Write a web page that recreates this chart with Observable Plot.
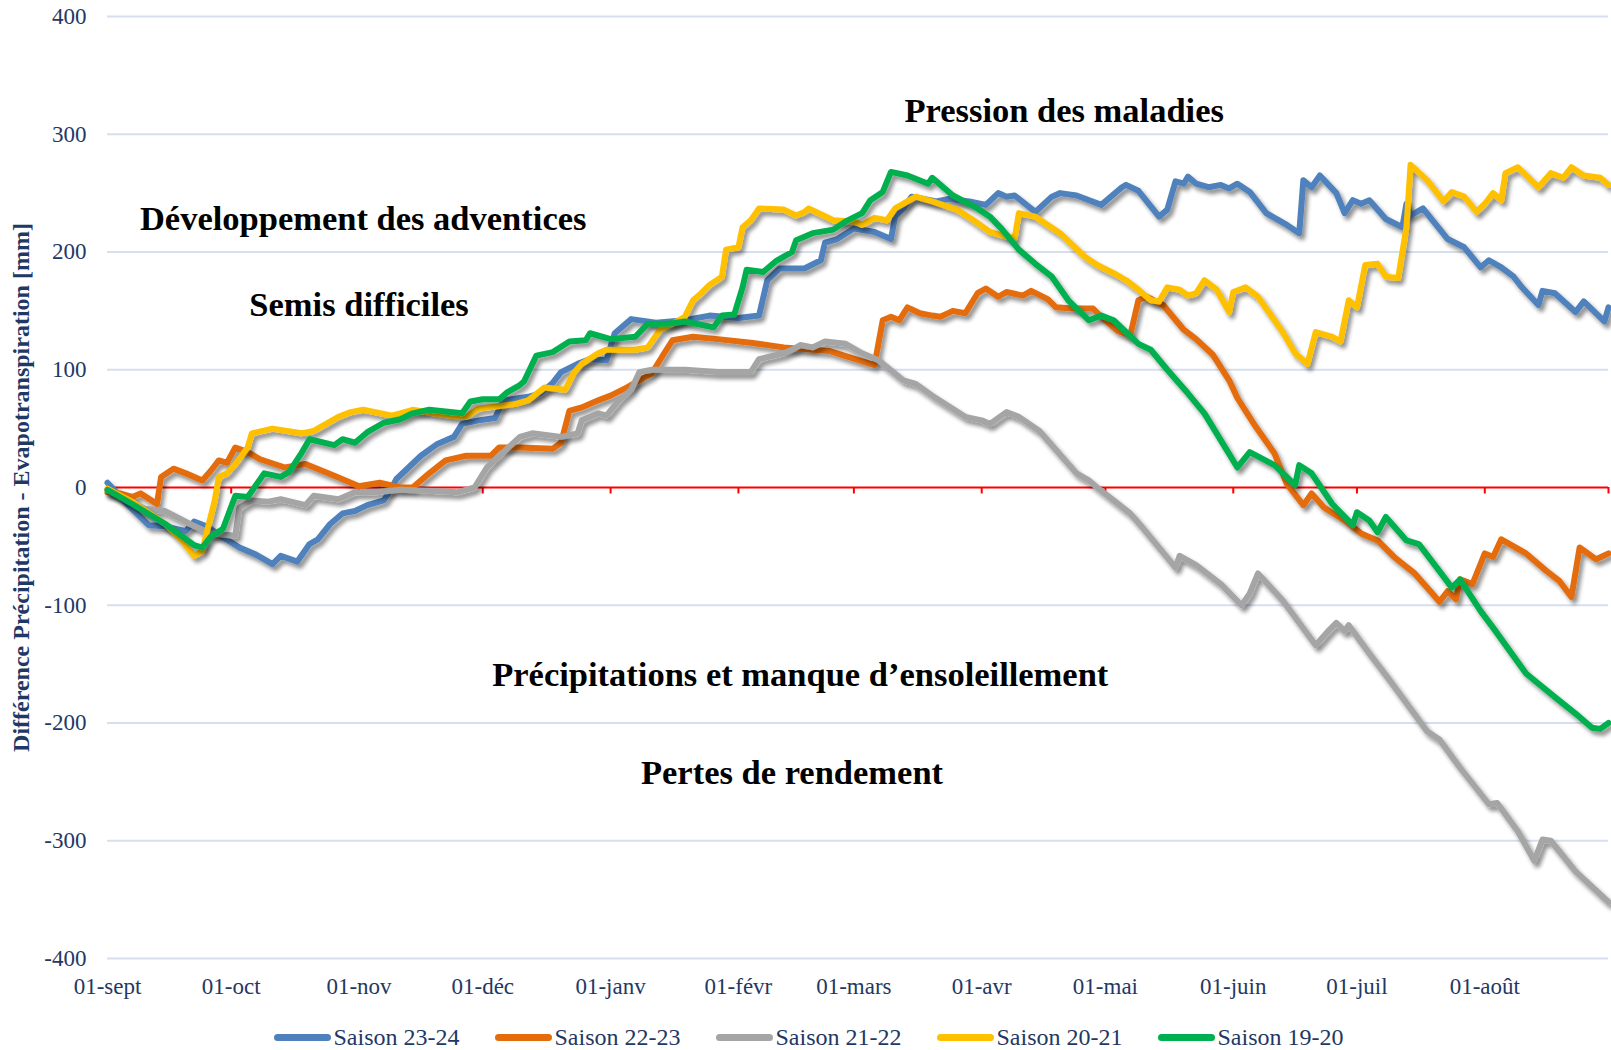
<!DOCTYPE html>
<html><head><meta charset="utf-8">
<script src="https://cdn.jsdelivr.net/npm/d3@7"></script>
<script src="https://cdn.jsdelivr.net/npm/@observablehq/plot@0.6"></script>
<style>
body{margin:0;background:#fff;}
#legende{display:flex;justify-content:center;align-items:center;height:54px;font-family:"Liberation Serif","Times New Roman",serif;font-size:24px;color:#1F3864;gap:35px;padding-left:6px}
.item{display:flex;align-items:center;white-space:nowrap}
.sw{width:57px;height:7px;border-radius:4px;margin-right:3px}
</style></head><body><div id="chart"></div><div id="legende"></div>
<script>
// Jours depuis le 1er septembre, et valeurs [mm]
const saisons = ["Saison 23-24", "Saison 22-23", "Saison 21-22", "Saison 20-21", "Saison 19-20"];
const couleurs = ["#4F81BD", "#E46C0A", "#A5A5A5", "#FFC000", "#00B050"];

const s2324 = [[0,4],[5,-15],[10,-32],[14,-33],[19,-37],[21,-29],[24,-33],[27,-40],[32,-51],[36,-57],[40,-65],[42,-58],[46,-63],[49,-48],[51,-44],[54,-31],[57,-22],[60,-20],[63,-15],[67,-11],[69,0],[70,7],[73,17],[76,27],[80,37],[84,43],[86,54],[90,57],[94,59],[96,74],[102,77],[105,80],[108,89],[110,98],[114,105],[117,109],[121,108],[123,131],[127,143],[133,140],[140,142],[146,146],[153,144],[158,146],[160,176],[163,186],[169,186],[173,193],[174,208],[177,211],[181,220],[186,217],[190,211],[191,230],[193,237],[195,247],[201,243],[204,245],[209,243],[213,240],[216,250],[218,247],[220,248],[225,234],[229,247],[231,250],[235,248],[241,240],[246,255],[247,257],[250,252],[255,230],[257,236],[259,260],[261,258],[262,264],[264,258],[267,255],[270,257],[272,254],[274,258],[277,251],[281,233],[286,223],[289,216],[290,261],[292,255],[294,265],[298,250],[300,233],[302,244],[304,241],[306,244],[310,228],[314,221],[315,241],[316,231],[319,237],[325,211],[329,204],[333,187],[335,193],[338,187],[341,179],[343,170],[347,155],[348,167],[351,165],[356,149],[358,158],[363,141],[364,153]];

const s2223 = [[0,-4],[3,-5],[6,-8],[8,-5],[12,-14],[13,9],[16,16],[19,12],[23,6],[25,14],[27,23],[29,21],[31,34],[34,30],[37,24],[43,17],[48,20],[55,10],[61,1],[66,4],[71,0],[74,0],[78,12],[82,23],[87,27],[93,27],[95,34],[100,34],[108,33],[110,38],[112,65],[115,68],[119,74],[122,78],[126,85],[128,89],[132,97],[135,114],[137,125],[142,128],[148,126],[156,123],[164,119],[175,116],[186,104],[188,142],[190,145],[192,142],[194,153],[197,148],[200,146],[202,145],[205,150],[208,148],[211,165],[213,169],[216,162],[218,166],[222,163],[224,167],[228,160],[230,153],[234,152],[239,152],[241,145],[245,133],[248,129],[250,159],[252,162],[256,155],[261,134],[264,126],[268,113],[272,91],[274,76],[278,54],[283,29],[286,3],[290,-15],[292,-5],[295,-17],[300,-28],[304,-39],[308,-45],[312,-59],[317,-73],[320,-85],[323,-97],[325,-88],[327,-95],[328,-78],[331,-82],[334,-56],[336,-59],[338,-44],[344,-56],[349,-71],[352,-79],[355,-93],[357,-51],[361,-61],[364,-56]];

const s2122 = [[0,-2],[9,-18],[14,-20],[20,-31],[25,-39],[31,-41],[32,-17],[35,-11],[39,-12],[42,-10],[48,-15],[50,-7],[56,-10],[60,-4],[65,-4],[71,-2],[79,-3],[85,-4],[89,0],[92,17],[96,30],[100,43],[103,46],[110,43],[114,46],[115,57],[119,63],[121,61],[124,74],[127,83],[129,98],[132,100],[140,100],[148,98],[156,98],[158,109],[164,114],[166,117],[168,121],[171,119],[174,124],[179,122],[183,114],[187,108],[193,91],[196,88],[200,78],[208,60],[212,57],[214,54],[218,64],[221,60],[226,48],[235,12],[238,6],[240,0],[244,-11],[248,-22],[251,-34],[259,-68],[260,-58],[264,-66],[270,-82],[275,-100],[277,-90],[279,-73],[285,-96],[293,-134],[296,-122],[298,-115],[300,-122],[301,-117],[306,-141],[311,-164],[320,-207],[323,-214],[328,-238],[335,-269],[337,-268],[342,-292],[346,-317],[348,-299],[350,-300],[356,-326],[364,-352]];

const s2021 = [[0,-1],[6,-12],[14,-31],[18,-45],[21,-58],[23,-54],[24,-39],[26,-11],[27,9],[29,12],[31,20],[34,34],[35,46],[40,50],[47,46],[50,48],[53,54],[56,60],[59,64],[62,66],[69,61],[74,66],[79,63],[83,61],[87,60],[90,67],[99,71],[102,74],[106,85],[111,83],[113,97],[115,105],[119,114],[121,117],[128,117],[131,119],[134,134],[137,139],[140,145],[142,159],[144,165],[146,172],[149,179],[150,202],[153,204],[154,221],[156,227],[158,237],[164,236],[167,231],[169,234],[170,237],[176,227],[181,226],[183,223],[186,229],[189,227],[191,237],[196,247],[200,243],[206,236],[210,227],[214,217],[218,213],[220,212],[221,233],[225,230],[231,216],[237,196],[240,189],[244,182],[247,176],[250,168],[253,159],[255,158],[257,170],[260,168],[262,163],[264,165],[266,176],[269,168],[272,149],[273,166],[276,170],[279,162],[283,142],[285,132],[288,114],[291,105],[293,132],[297,128],[299,124],[301,159],[303,153],[305,189],[308,190],[310,179],[313,178],[315,221],[316,274],[320,261],[324,243],[326,251],[329,247],[332,234],[334,241],[336,250],[338,244],[339,267],[342,272],[347,255],[350,267],[353,263],[355,272],[358,265],[362,263],[364,257]];

const s1920 = [[0,-2],[6,-14],[14,-31],[21,-49],[23,-51],[25,-42],[28,-35],[31,-7],[34,-8],[38,12],[42,9],[44,13],[47,29],[49,41],[55,36],[57,41],[60,38],[63,47],[67,55],[71,58],[74,63],[78,66],[86,63],[88,73],[91,75],[95,75],[97,81],[100,87],[101,90],[104,112],[108,115],[112,124],[116,125],[117,131],[122,126],[128,128],[131,139],[136,139],[140,141],[147,136],[149,146],[152,147],[154,170],[155,185],[159,183],[162,192],[164,196],[166,200],[167,210],[169,213],[171,216],[176,219],[179,226],[183,233],[185,244],[188,251],[190,268],[194,265],[199,258],[200,263],[205,248],[211,237],[214,230],[217,219],[221,202],[225,190],[229,179],[233,159],[238,142],[241,146],[244,142],[250,122],[253,117],[257,100],[262,80],[266,63],[270,40],[274,17],[277,30],[283,19],[288,2],[289,19],[292,12],[297,-14],[302,-32],[303,-21],[306,-28],[308,-38],[310,-25],[315,-45],[318,-48],[323,-71],[326,-85],[328,-78],[333,-105],[336,-119],[344,-158],[351,-178],[356,-192],[360,-204],[362,-205],[364,-200]];

const series = [s2324, s2223, s2122, s2021, s1920];

const moisDates = ["2022-09-01","2022-10-01","2022-11-01","2022-12-01","2023-01-01","2023-02-01","2023-03-01","2023-04-01","2023-05-01","2023-06-01","2023-07-01","2023-08-01"];
const moisLabels = ["01-sept","01-oct","01-nov","01-déc","01-janv","01-févr","01-mars","01-avr","01-mai","01-juin","01-juil","01-août"];
const finSaison = "2023-08-31";
const yTicks = [-400,-300,-200,-100,0,100,200,300,400];

const annotTextes = ["Pression des maladies","Développement des adventices","Semis difficiles","Précipitations et manque d’ensoleillement","Pertes de rendement"];
const annotJours = [232, 62, 61, 168, 166];
const annotValeurs = [320, 228, 155, -159, -242];

const titreY = "Différence Précipitation - Evapotranspiration [mm]";

const parse = s => { const [y,m,d] = s.split("-").map(Number); return new Date(y, m-1, d); };
const debut = parse(moisDates[0]);
const jour = j => d3.timeDay.offset(debut, j);
const mois = moisDates.map(parse);
const labelMap = new Map(mois.map((d,i)=>[+d, moisLabels[i]]));
const ticksRouges = [...mois, parse(finSaison)];
const annots = annotTextes.map((t,i)=>({t, x: jour(annotJours[i]), y: annotValeurs[i]}));

const serif = "'Liberation Serif','Times New Roman',serif";

const lignes = series.map((s, i) => Plot.line(s.map(([j,v]) => ({x: jour(j), y: v})), {
  x: "x", y: "y", stroke: couleurs[i], strokeWidth: 6, strokeLinejoin: "round", strokeLinecap: "round"
}));

const plot = Plot.plot({
  width: 1611, height: 1010,
  marginLeft: 107, marginRight: 3, marginTop: 16, marginBottom: 52,
  style: {fontFamily: serif, fontSize: "23px", color: "#1F3864", background: "#fff"},
  x: {type: "time", domain: [debut, parse(finSaison)]},
  y: {domain: [-400, 400]},
  marks: [
    Plot.ruleY(yTicks.filter(v => v !== 0), {stroke: "#D5DFF0", strokeWidth: 2}),
    Plot.axisY({ticks: yTicks, tickSize: 0, tickPadding: 21, label: null, tickFormat: d => String(d)}),
    Plot.axisX({ticks: mois, tickSize: 0, tickPadding: 19, label: null, tickFormat: d => labelMap.get(+d)}),
    Plot.ruleY([0], {stroke: "#FF0000", strokeWidth: 2}),
    Plot.ruleX(ticksRouges, {x: d => d, y1: 0, y2: -5.5, stroke: "#FF0000", strokeWidth: 2}),
    ...lignes,
    Plot.text(annots, {x: "x", y: "y", text: "t", fontSize: 34.5, fontWeight: "bold", fill: "black", textAnchor: "middle", lineAnchor: "middle", fontFamily: serif}),
    Plot.text([titreY], {frameAnchor: "left", rotate: -90, dx: -86, fontSize: 24, fontWeight: "bold", fill: "#1F3864", textAnchor: "middle", lineAnchor: "middle", fontFamily: serif})
  ]
});

// ombre portée sur les courbes
const svg = d3.select(plot);
const defs = svg.insert("defs", ":first-child");
const f = defs.append("filter").attr("id", "ombre").attr("filterUnits", "userSpaceOnUse")
  .attr("x", 0).attr("y", 0).attr("width", 1611).attr("height", 1010);
f.append("feGaussianBlur").attr("in", "SourceAlpha").attr("stdDeviation", 2);
f.append("feOffset").attr("dx", 2.5).attr("dy", 3.5).attr("result", "o");
f.append("feComponentTransfer").append("feFuncA").attr("type", "linear").attr("slope", 0.45);
const m = f.append("feMerge"); m.append("feMergeNode"); m.append("feMergeNode").attr("in", "SourceGraphic");
svg.selectAll("g[aria-label='line'] path").attr("filter", "url(#ombre)");

document.getElementById("chart").appendChild(plot);

const leg = document.getElementById("legende");
saisons.forEach((s, i) => {
  const it = document.createElement("div"); it.className = "item";
  const sw = document.createElement("div"); sw.className = "sw"; sw.style.background = couleurs[i];
  const tx = document.createElement("span"); tx.textContent = s;
  it.appendChild(sw); it.appendChild(tx); leg.appendChild(it);
});
</script></body></html>
